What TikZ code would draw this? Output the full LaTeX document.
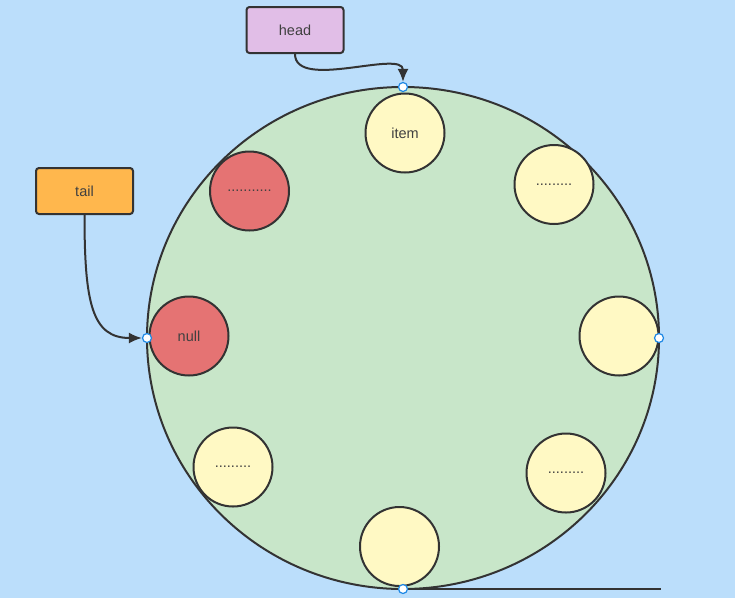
\documentclass[tikz,border=0pt]{standalone}
\usepackage{fontspec}
\setmainfont{Liberation Sans}
\usetikzlibrary{shapes.geometric,arrows.meta}
\definecolor{bg}{HTML}{BBDEFB}
\definecolor{ringc}{HTML}{C8E6C9}
\definecolor{yel}{HTML}{FFF9C4}
\definecolor{redc}{HTML}{E57373}
\definecolor{purp}{HTML}{E1BEE7}
\definecolor{oran}{HTML}{FFB74D}
\definecolor{ink}{HTML}{333333}
\definecolor{txt}{HTML}{404040}
\definecolor{mblue}{HTML}{1E88E5}
\tikzset{
  every node/.style={font=\fontsize{14.5}{16}\selectfont, text=txt},
  ball/.style={circle, draw=ink, line width=2pt, minimum size=79pt, inner sep=0pt},
  yball/.style={ball, fill=yel},
  rball/.style={ball, fill=redc},
  tag/.style={draw=ink, line width=2pt, rounded corners=3pt, minimum width=97pt, minimum height=46pt, inner sep=0pt},
  marker/.style={circle, draw=mblue, fill=white, line width=1.2pt, minimum size=9pt, inner sep=0pt},
  conn/.style={draw=ink, line width=2pt, -{Latex[length=13pt,width=11pt]}},
}
\begin{document}
\begin{tikzpicture}[x=1pt,y=-1pt]
\fill[bg] (0,0) rectangle (735,598);
\useasboundingbox (0,0) rectangle (735,598);
\node[ellipse, draw=ink, fill=ringc, line width=2pt, minimum width=512pt, minimum height=502pt, inner sep=0pt, outer sep=0pt] (ring) at (403,338) {};
\node[yball] (item) at (405,133) {item};
\node[yball] (tr) at (554,184.5) {.........};
\node[yball] (r) at (619,336) {};
\node[yball] (br) at (566,473) {.........};
\node[yball] (b) at (399.5,546.5) {};
\node[yball] (bl) at (233,467) {.........};
\node[rball] (null) at (189,336) {null};
\node[rball] (tl) at (249.5,191) {...........};
\node[tag, fill=purp] (head) at (295,30) {head};
\node[tag, fill=oran] (tail) at (84.5,191) {tail};
\coordinate (lineend) at (661,589);
\draw[ink, line width=2.5pt] (ring.south) -- (lineend);
\node[marker] (mt) at (ring.north) {};
\node[marker] (ml) at (ring.west) {};
\node[marker] (mr) at (ring.east) {};
\node[marker] (mb) at (ring.south) {};
\draw[conn] (head.south) .. controls +(0,37) and +(0,-33) .. (mt.north);
\draw[conn] (tail.south) .. controls +(0,88) and +(-50,0) .. (ml.west);
\end{tikzpicture}
\end{document}
